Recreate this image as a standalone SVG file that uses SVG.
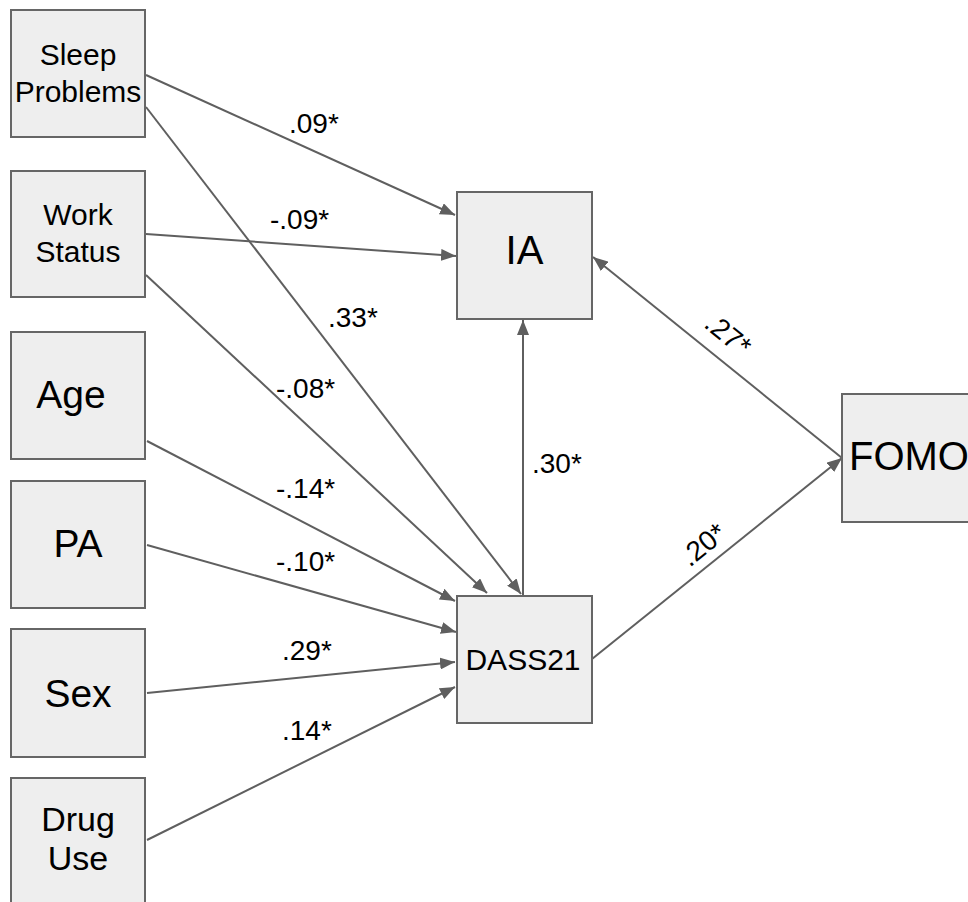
<svg xmlns="http://www.w3.org/2000/svg" width="968" height="902" viewBox="0 0 968 902">
<style>
.box{fill:#eeeeee;stroke:#666666;stroke-width:2}
.t{font-family:"Liberation Sans",Arial,sans-serif;fill:#000;text-anchor:middle}
.ts{font-family:"Liberation Sans",Arial,sans-serif;fill:#000;text-anchor:start}
.lbl{font-family:"Liberation Sans",Arial,sans-serif;fill:#000;font-size:28px}
.c{stroke:#5f5f5f;stroke-width:2;fill:none;marker-end:url(#ah)}
</style>
<defs>
<marker id="ah" markerUnits="userSpaceOnUse" markerWidth="16" markerHeight="12" refX="15" refY="6" orient="auto">
<path d="M0,0 L15,6 L0,12 z" fill="#5f5f5f"/>
</marker>
</defs>
<rect width="968" height="902" fill="#ffffff"/>
<g id="connectors">
<line class="c" x1="146" y1="75" x2="455" y2="215"/>
<line class="c" x1="146" y1="234" x2="456" y2="256"/>
<line class="c" x1="146" y1="107" x2="521" y2="594"/>
<line class="c" x1="146" y1="275" x2="487" y2="593"/>
<line class="c" x1="147" y1="441" x2="455" y2="601"/>
<line class="c" x1="147" y1="545" x2="456" y2="632"/>
<line class="c" x1="147" y1="693" x2="455" y2="662"/>
<line class="c" x1="147" y1="840" x2="455" y2="687"/>
<line class="c" x1="523" y1="596" x2="523" y2="320"/>
<line class="c" x1="842" y1="458" x2="593" y2="257"/>
<line class="c" x1="592" y1="659" x2="842" y2="458"/>
</g>
<g id="labels">
<text class="lbl" x="289" y="133">.09*</text>
<text class="lbl" x="270" y="229">-.09*</text>
<text class="lbl" x="328" y="327">.33*</text>
<text class="lbl" x="276" y="398">-.08*</text>
<text class="lbl" x="276" y="498">-.14*</text>
<text class="lbl" x="276" y="571">-.10*</text>
<text class="lbl" x="282" y="660">.29*</text>
<text class="lbl" x="282" y="740">.14*</text>
<text class="lbl" x="532" y="473">.30*</text>
<text class="lbl" x="722" y="342" text-anchor="middle" transform="rotate(39 722 342)">.27*</text>
<text class="lbl" x="709" y="552" text-anchor="middle" transform="rotate(-39 709 552)">.20*</text>
</g>
<g id="sleep">
<rect class="box" x="11" y="10" width="134" height="127"/>
<text class="t" x="78" y="65" font-size="30">Sleep</text>
<text class="t" x="78" y="102" font-size="30">Problems</text>
</g>
<g id="work">
<rect class="box" x="11" y="171" width="134" height="126"/>
<text class="t" x="78" y="225" font-size="30">Work</text>
<text class="t" x="78" y="262" font-size="30">Status</text>
</g>
<g id="age">
<rect class="box" x="11" y="332" width="134" height="127"/>
<text class="t" x="71" y="408" font-size="39">Age</text>
</g>
<g id="pa">
<rect class="box" x="11" y="481" width="134" height="127"/>
<text class="t" x="78" y="557" font-size="39">PA</text>
</g>
<g id="sex">
<rect class="box" x="11" y="629" width="134" height="128"/>
<text class="t" x="78" y="707" font-size="39">Sex</text>
</g>
<g id="drug">
<rect class="box" x="11" y="778" width="134" height="128"/>
<text class="t" x="78" y="831" font-size="34">Drug</text>
<text class="t" x="78" y="870" font-size="34">Use</text>
</g>
<g id="ia">
<rect class="box" x="457" y="192" width="135" height="127"/>
<text class="t" x="524.5" y="264" font-size="40">IA</text>
</g>
<g id="dass21">
<rect class="box" x="457" y="596" width="135" height="127"/>
<text class="t" x="523" y="670" font-size="30">DASS21</text>
</g>
<g id="fomo">
<rect class="box" x="842" y="394" width="135" height="128"/>
<text class="ts" x="849" y="470" font-size="40">FOMO</text>
</g>
</svg>
